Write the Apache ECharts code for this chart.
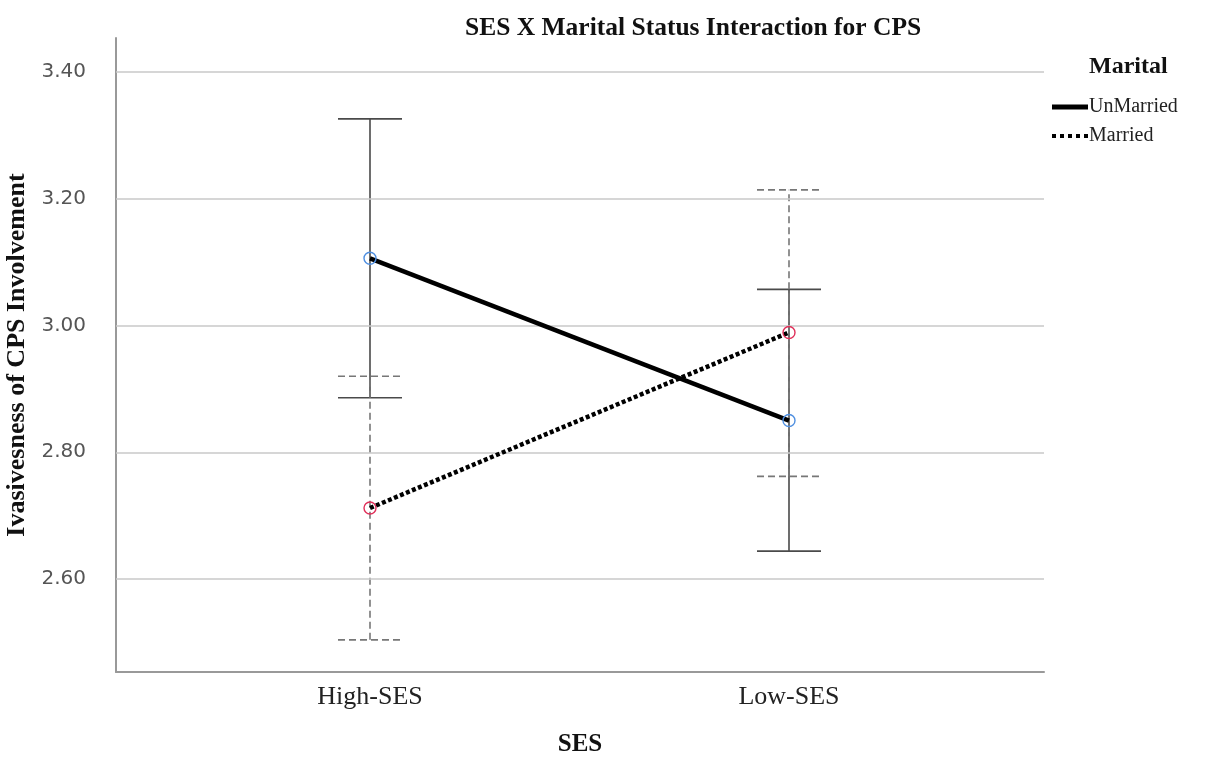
<!DOCTYPE html>
<html>
<head>
<meta charset="utf-8">
<script src="https://cdn.jsdelivr.net/npm/echarts@6/dist/echarts.min.js"></script>
<style>html,body{margin:0;padding:0;background:#fff}#c{width:1219px;height:763px}</style>
</head>
<body>
<div id="c"></div>
<script>
const categories = ['High-SES', 'Low-SES'];
const yTicks = [2.6, 2.8, 3.0, 3.2, 3.4];
const unmarriedMean = [3.106, 2.850];
const unmarriedLow = [2.886, 2.644];
const unmarriedHigh = [3.326, 3.057];
const marriedMean = [2.712, 2.989];
const marriedLow = [2.504, 2.762];
const marriedHigh = [2.920, 3.214];

const serif = '"Liberation Serif", "Times New Roman", serif';
const capHalf = 32;

function errRender(color, dash) {
  return function (params, api) {
    const x = api.value(0);
    const lo = api.coord([x, api.value(1)]);
    const hi = api.coord([x, api.value(2)]);
    const style = { stroke: color, lineWidth: 1.6, lineDash: dash, fill: null };
    return {
      type: 'group',
      children: [
        { type: 'line', shape: { x1: lo[0], y1: lo[1], x2: hi[0], y2: hi[1] }, style: style },
        { type: 'line', shape: { x1: hi[0] - capHalf, y1: hi[1], x2: hi[0] + capHalf, y2: hi[1] }, style: style },
        { type: 'line', shape: { x1: lo[0] - capHalf, y1: lo[1], x2: lo[0] + capHalf, y2: lo[1] }, style: style }
      ]
    };
  };
}

const chart = echarts.init(document.getElementById('c'), null, { renderer: 'canvas' });
chart.setOption({
  animation: false,
  backgroundColor: '#ffffff',
  title: [
    { text: 'SES X Marital Status Interaction for CPS', left: 460, top: 10,
      textStyle: { fontFamily: serif, fontWeight: 'bold', fontSize: 25.5, color: '#111' } },
    { text: 'Marital', left: 1084, top: 50,
      textStyle: { fontFamily: serif, fontWeight: 'bold', fontSize: 24, color: '#111' } }
  ],
  legend: {
    orient: 'vertical', left: 1047, top: 92, itemWidth: 36, itemHeight: 5, itemGap: 9,
    textStyle: { fontFamily: serif, fontSize: 20, color: '#222', padding: [0, 0, 0, -4] },
    data: [
      { name: 'UnMarried', icon: 'path://M0,0h36v5h-36z', itemStyle: { color: '#000', borderWidth: 0 } },
      { name: 'Married', icon: 'path://M0,0h4v4h-4zM8,0h4v4h-4zM16,0h4v4h-4zM24,0h4v4h-4zM32,0h4v4h-4z', itemStyle: { color: '#000', borderWidth: 0 } }
    ]
  },
  grid: { left: 116, right: 175, top: 38, bottom: 91, containLabel: false, outerBoundsMode: 'none' },
  xAxis: {
    type: 'value', min: -0.6062, max: 1.6086,
    name: 'SES', nameLocation: 'middle', nameGap: 60,
    nameTextStyle: { fontFamily: serif, fontWeight: 'bold', fontSize: 25, color: '#111' },
    axisLine: { show: true, onZero: false, lineStyle: { color: '#999', width: 2 } },
    axisTick: { show: false },
    splitLine: { show: false },
    axisLabel: { customValues: [0, 1], formatter: v => categories[Math.round(v)],
      fontFamily: serif, fontSize: 26, color: '#222', margin: 12 }
  },
  yAxis: {
    type: 'value', min: 2.4533, max: 3.4536,
    name: 'Ivasivesness of CPS Involvement', nameLocation: 'middle', nameGap: 78,
    nameTextStyle: { fontFamily: serif, fontWeight: 'bold', fontSize: 26, color: '#111' },
    axisLine: { show: true, onZero: false, lineStyle: { color: '#999', width: 2 } },
    axisTick: { show: false },
    splitLine: { show: false },
    axisLabel: { customValues: yTicks, formatter: v => v.toFixed(2),
      fontFamily: '"DejaVu Sans", sans-serif', fontSize: 20, color: '#555', margin: 30 }
  },
  series: [
    { type: 'line', name: 'grid', data: [], silent: true, z: 1,
      markLine: { silent: true, symbol: 'none', label: { show: false },
        lineStyle: { color: '#c8c8c8', width: 1.5, type: 'solid' },
        data: yTicks.map(v => ({ yAxis: v })) } },
    { type: 'custom', name: 'UnMarried CI', z: 3,
      renderItem: errRender('#4a4a4a', null),
      data: categories.map((c, i) => [i, unmarriedLow[i], unmarriedHigh[i]]) },
    { type: 'custom', name: 'Married CI', z: 3,
      renderItem: errRender('#777777', [7, 4]),
      data: categories.map((c, i) => [i, marriedLow[i], marriedHigh[i]]) },
    { type: 'line', name: 'UnMarried', z: 5,
      data: categories.map((c, i) => [i, unmarriedMean[i]]),
      lineStyle: { color: '#000', width: 4.5, type: 'solid' },
      symbol: 'circle', symbolSize: 12,
      itemStyle: { color: 'rgba(255,255,255,0)', borderColor: '#4f8fe0', borderWidth: 1.4 } },
    { type: 'line', name: 'Married', z: 5,
      data: categories.map((c, i) => [i, marriedMean[i]]),
      lineStyle: { color: '#000', width: 4.5, type: [4, 2.5] },
      symbol: 'circle', symbolSize: 12,
      itemStyle: { color: 'rgba(255,255,255,0)', borderColor: '#e0305a', borderWidth: 1.4 } }
  ]
});
</script>
</body>
</html>
